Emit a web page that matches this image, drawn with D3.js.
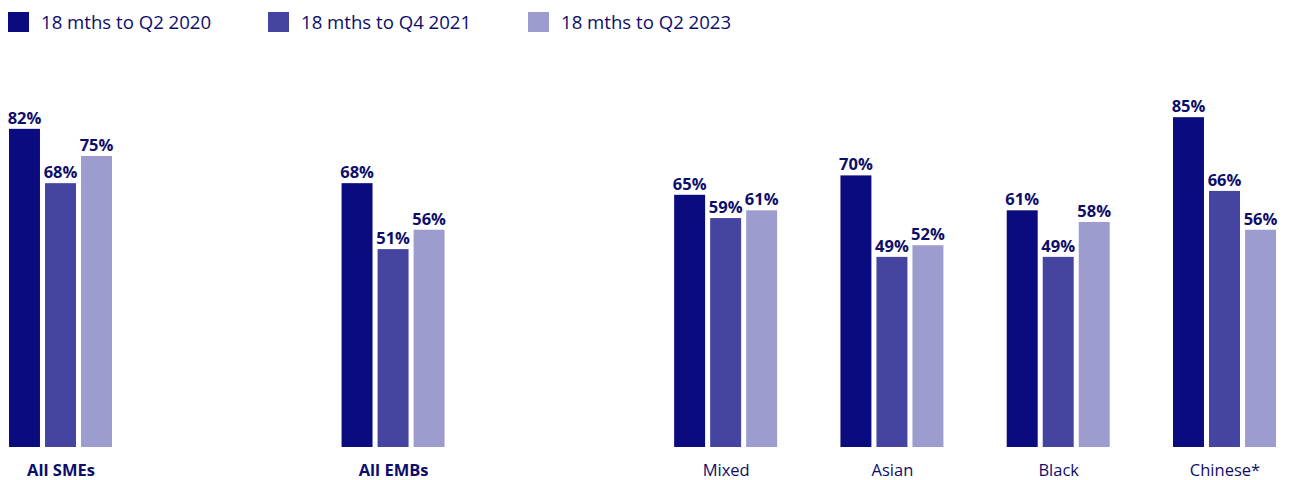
<!DOCTYPE html>
<html>
<head>
<meta charset="utf-8">
<script src="https://cdn.jsdelivr.net/npm/d3@7"></script>
<style>
  html, body { margin: 0; padding: 0; background: #ffffff; }
  svg { display: block; }
  text { font-family: "Open Sans", "Noto Sans", sans-serif; fill: #0d0d6b; }
</style>
</head>
<body>
<svg id="chart" width="1292" height="480"></svg>
<script>
// Category slots along the axis ("" slots are intentional spacers)
const slots = ["All SMEs", "", "All EMBs", "", "Mixed", "Asian", "Black", "Chinese*"];
const boldCategories = ["All SMEs", "All EMBs"];
const categories = ["All SMEs", "All EMBs", "Mixed", "Asian", "Black", "Chinese*"];

const seriesNames = ["18 mths to Q2 2020", "18 mths to Q4 2021", "18 mths to Q2 2023"];
const seriesColors = ["#0b0b80", "#4545a1", "#9c9cce"];

const valuesQ2_2020 = [82, 68, 65, 70, 61, 85];
const valuesQ4_2021 = [68, 51, 59, 49, 49, 66];
const valuesQ2_2023 = [75, 56, 61, 52, 58, 56];
const seriesValues = [valuesQ2_2020, valuesQ4_2021, valuesQ2_2023];

const svg = d3.select("#chart");

// Horizontal placement: one point per slot, then a band inside each slot for the series
const x = d3.scalePoint()
  .domain(slots.map((s, i) => i))
  .range([60.5, 1224.5]);

const xInner = d3.scaleBand()
  .domain(d3.range(seriesNames.length))
  .range([-51.5, 51.5])
  .paddingInner(0.14)
  .paddingOuter(0);

const y = d3.scaleLinear()
  .domain([0, 100])
  .range([447, 59]);

const slotIndex = c => slots.indexOf(c);

// Legend
const legend = svg.append("g").attr("class", "legend");
const legendX = [8, 268, 528];
seriesNames.forEach((name, i) => {
  const g = legend.append("g").attr("transform", `translate(${legendX[i]},12)`);
  g.append("rect").attr("width", 21).attr("height", 20).attr("fill", seriesColors[i]);
  g.append("text")
    .attr("x", 33).attr("y", 17)
    .attr("font-size", 18.6)
    .text(name);
});

// Bars and value labels
const groups = svg.append("g").selectAll("g.group")
  .data(categories)
  .join("g")
  .attr("class", "group")
  .attr("transform", c => `translate(${x(slotIndex(c))},0)`);

groups.each(function(c, ci) {
  const g = d3.select(this);
  seriesValues.forEach((vals, si) => {
    const v = vals[ci];
    g.append("rect")
      .attr("x", xInner(si))
      .attr("width", xInner.bandwidth())
      .attr("y", y(v))
      .attr("height", y(0) - y(v))
      .attr("fill", seriesColors[si]);
    g.append("text")
      .attr("x", xInner(si) + xInner.bandwidth() / 2)
      .attr("y", y(v) - 5)
      .attr("text-anchor", "middle")
      .attr("font-size", 16.5)
      .attr("font-weight", 700)
      .text(v + "%");
  });
});

// Category axis labels
const xAxis = d3.axisBottom(x)
  .tickSize(0)
  .tickPadding(0)
  .tickValues(categories.map(slotIndex))
  .tickFormat(i => slots[i]);

const axisG = svg.append("g")
  .attr("transform", `translate(0,${y(0)})`)
  .call(xAxis);
axisG.select(".domain").remove();
axisG.selectAll("text")
  .attr("dy", null)
  .attr("y", 28.5)
  .attr("font-size", 16.5)
  .attr("font-family", "\"Open Sans\", \"Noto Sans\", sans-serif")
  .attr("font-weight", i => boldCategories.includes(slots[i]) ? 700 : 400)
  .style("fill", "#0d0d6b");
</script>
</body>
</html>
